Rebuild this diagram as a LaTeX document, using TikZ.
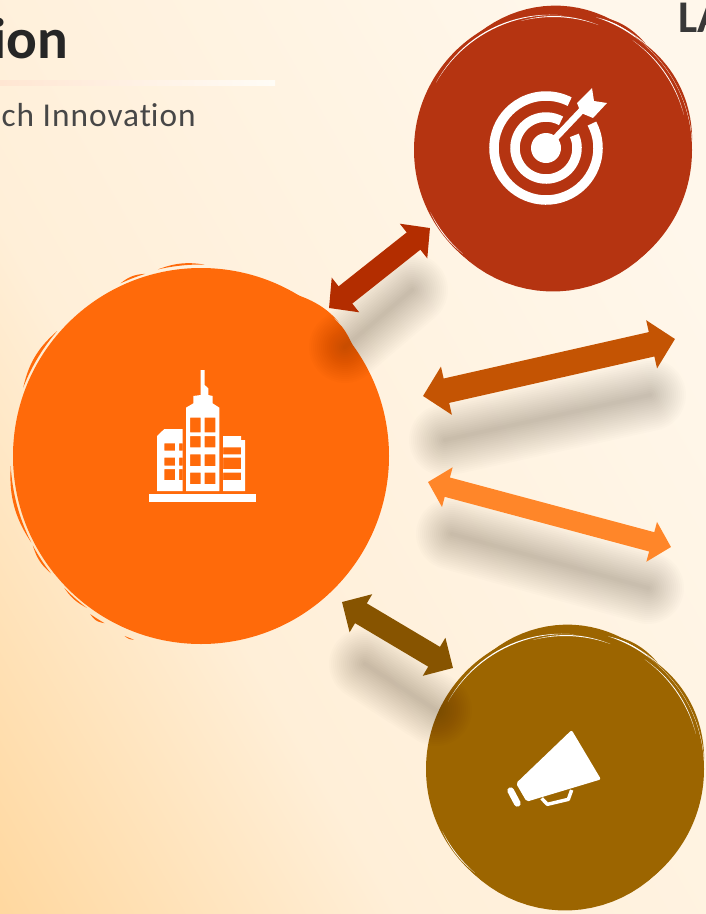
\documentclass[tikz,border=0pt]{standalone}
\usepackage{fontspec}
\setmainfont{Carlito}
\usetikzlibrary{arrows.meta}
\definecolor{hubc}{HTML}{FF6A0A}
\definecolor{goalc}{HTML}{B53411}
\definecolor{megac}{HTML}{9C6500}
\definecolor{arA}{HTML}{B32D00}
\definecolor{arB}{HTML}{C45403}
\definecolor{arC}{HTML}{FF8629}
\definecolor{arD}{HTML}{875400}
\definecolor{bgA}{HTML}{FFF7EB}
\definecolor{bgB}{HTML}{FFEFD8}
\definecolor{bgC}{HTML}{FFD69B}
\definecolor{ruleL}{HTML}{FFE6D2}
\definecolor{ruleR}{HTML}{FFFCF6}
\pgfdeclarehorizontalshading{bgshade}{100bp}{color(0bp)=(bgC); color(14bp)=(bgC); color(38bp)=(bgB); color(76bp)=(bgA); color(100bp)=(bgA)}
% a tapered brush stroke following a circle: centre x, centre y, radius, from angle, to angle, thickness, colour
\newcommand{\lens}[7]{%
  \fill[#7] plot[domain=#4:#5,samples=24] ({#1+(#3+#6*sin((\x-(#4))/((#5)-(#4))*180))*cos(\x)},{#2+(#3+#6*sin((\x-(#4))/((#5)-(#4))*180))*sin(\x)})
    -- plot[domain=#5:#4,samples=24] ({#1+(#3)*cos(\x)},{#2+(#3)*sin(\x)}) -- cycle;}
\newcommand{\softshadow}[2]{%
  \foreach \w in {72,68,...,4}{\draw[line cap=round,black,opacity=0.0125,line width=\w*0.75pt] (#1) -- (#2);}}
\newcommand{\brushset}[3]{%
  \lens{#1}{#2}{138}{235}{315}{6.5}{#3}
  \lens{#1}{#2}{138}{40}{140}{3.5}{#3}
  \lens{#1}{#2}{135}{210}{274}{1.2}{white}
  \lens{#1}{#2}{133}{256}{290}{1}{white}
  \lens{#1}{#2}{139.5}{288}{309}{1.6}{white}
  \lens{#1}{#2}{141}{288}{311}{2.5}{#3}
  \lens{#1}{#2}{135.5}{306}{345}{0.8}{white}
  \lens{#1}{#2}{139.5}{306}{356}{2.5}{#3}
  \lens{#1}{#2}{137.5}{131}{153}{0.8}{white}}
\tikzset{
  x=0.75pt,y=-0.75pt,
  disc/.style={circle,inner sep=0pt,minimum size=#1*1.5pt},
  icon/.style={fill=white,draw=none},
  link/.style n args={3}{line width=#1*0.75pt,{Triangle[length=#2*0.75pt,width=#3*0.75pt]}-{Triangle[length=#2*0.75pt,width=#3*0.75pt]}},
  ringline/.style={white,line width=9.5*0.75pt},
}
\begin{document}
\begin{tikzpicture}
\useasboundingbox (0,0) rectangle (706,914);
\begin{scope}
\clip (0,0) rectangle (706,914);
% background
\shade[shading=bgshade,shading angle=30] (0,0) rectangle (706,914);
% title
\node[anchor=base east,font=\bfseries,text=black!85,inner sep=0pt] (title) at (68,58) {\fontsize{43}{43}\selectfont ion};
\shade[left color=ruleL,right color=ruleR] (0,80) rectangle (275,85);
\node[anchor=base east,text=black!72,inner sep=0pt] (sub) at (196,126) {\fontsize{25}{25}\selectfont\addfontfeatures{LetterSpace=3}ch Innovat\kern0pt ion};
\node[anchor=base west,font=\bfseries,text=black!78,inner sep=0pt] (la) at (678,32) {\fontsize{34}{34}\selectfont LA};
% discs
\node[disc=188,fill=hubc] (hub) at (201,456) {};
\node[disc=139,fill=goalc] (goal) at (553,150) {};
\node[disc=139,fill=megac] (mega) at (565,769) {};
% brush marks on the big disc
\lens{201}{456}{190.5}{245}{253}{2}{hubc}
\lens{201}{456}{191.5}{257}{271}{2}{hubc}
\lens{201}{456}{187}{300}{325}{5.5}{hubc}
\lens{201}{456}{190.5}{201}{221}{3}{hubc}
\lens{201}{456}{190.5}{153}{177}{3}{hubc}
\lens{201}{456}{190.5}{142}{152}{2}{hubc}
\lens{201}{456}{190}{127}{136}{1.5}{hubc}
\lens{201}{456}{193}{120}{125}{2}{hubc}
\lens{201}{456}{195.5}{110}{113}{1}{hubc}
\lens{201}{456}{191.5}{314}{321}{0.8}{bgB}
\brushset{553}{150}{goalc}
\brushset{565}{769}{megac}
% shadows
\softshadow{345,347}{412,290}
\softshadow{445,440}{650,395}
\softshadow{452,534}{648,588}
\softshadow{365,664}{436,710}
% connectors
\coordinate (a1) at (329,308); \coordinate (a2) at (430,228);
\coordinate (b1) at (423,396); \coordinate (b2) at (675,339);
\coordinate (c1) at (428,482); \coordinate (c2) at (671,547);
\coordinate (d1) at (342,602); \coordinate (d2) at (453,668);
\draw[link={22}{21}{43},arA] (a1) -- (a2);
\draw[link={25}{24}{48},arB] (b1) -- (b2);
\draw[link={20}{20}{40},arC] (c1) -- (c2);
\draw[link={23}{22}{43},arD] (d1) -- (d2);
% target icon
\begin{scope}[shift={(546,148)}]
  \draw[ringline] (-28:52) arc[start angle=-28,end angle=297,radius=52];
  \draw[ringline] (-24:31) arc[start angle=-24,end angle=299,radius=31];
  \fill[icon] (0,0) circle[radius=15];
  \draw[white,line width=6.5*0.75pt] (0,0) -- (36,-38);
  \fill[icon] (31,-45) -- (46,-60) -- (48,-47) -- (61,-45) -- (47,-30) -- (35,-35) -- cycle;
\end{scope}
% building icon
\begin{scope}[shift={(130,360)},x=0.25pt,y=-0.25pt]
  \fill[icon] (58,403) rectangle (378,426);
  \fill[icon,even odd rule] (168,393) -- (168,143) -- (190,130) -- (190,108) -- (212,105) -- (212,30) -- (224,30) -- (224,75) -- (235,85) -- (235,105) -- (248,108) -- (248,130) -- (268,143) -- (268,393) -- cycle
    (180,173) rectangle (212,217) (224,173) rectangle (256,217)
    (180,228) rectangle (212,262) (224,228) rectangle (256,262)
    (180,283) rectangle (212,318) (224,283) rectangle (256,318)
    (180,338) rectangle (212,372) (224,338) rectangle (256,372);
  \fill[icon,even odd rule] (81,393) -- (81,228) -- (103,207) -- (158,207) -- (158,393) -- cycle
    (103,250) rectangle (135,272) (103,293) rectangle (135,317) (103,327) rectangle (135,360)
    (147,250) rectangle (158,272) (147,293) rectangle (158,317) (147,327) rectangle (158,360);
  \fill[icon,even odd rule] (279,393) -- (279,228) -- (333,228) -- (333,240) -- (345,240) -- (345,393) -- cycle
    (279,262) rectangle (333,283) (279,293) rectangle (333,327) (279,338) rectangle (333,360);
\end{scope}
% megaphone icon
\begin{scope}[shift={(490,720)},x=0.25pt,y=-0.25pt]
  \fill[icon,rounded corners=1.5pt] (78,190) -- (245,30) -- (333,178) -- (110,245) -- cycle;
  \draw[white,line width=2.6pt,line join=round] (155,235) -- (172,253) -- (235,238) -- (245,210);
  \draw[white,line width=5pt,line cap=round] (62,212) -- (82,250);
\end{scope}
\end{scope}
\end{tikzpicture}
\end{document}
